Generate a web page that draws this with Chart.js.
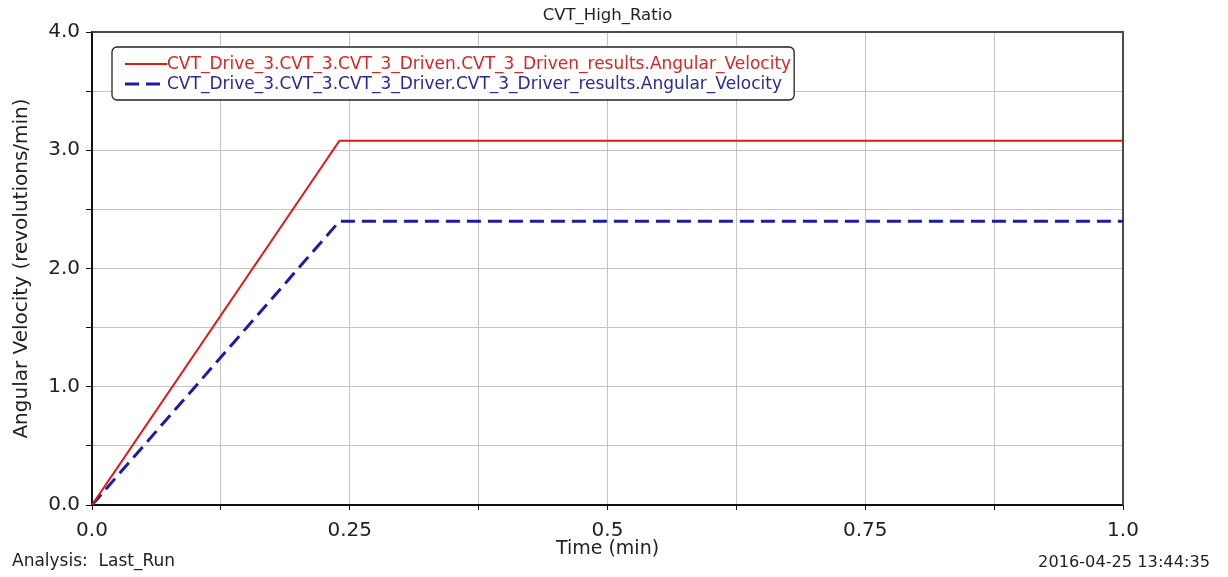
<!DOCTYPE html>
<html>
<head>
<meta charset="utf-8">
<title>CVT_High_Ratio</title>
<script src="https://cdn.jsdelivr.net/npm/chart.js@4/dist/chart.umd.min.js"></script>
<style>
  html, body { margin: 0; padding: 0; background: #ffffff; }
  #wrap { width: 1228px; height: 577px; }
</style>
</head>
<body>
<div id="wrap"><canvas id="plot" width="1228" height="577"></canvas></div>
<script>
// Simulation output: time (min) vs angular velocity (revolutions/min)
const drivenTime = [0, 0.24, 1.0];
const drivenVelocity = [0, 3.08, 3.08];
const driverTime = [0, 0.24, 1.0];
const driverVelocity = [0, 2.4, 2.4];

const seriesNames = [
  'CVT_Drive_3.CVT_3.CVT_3_Driven.CVT_3_Driven_results.Angular_Velocity',
  'CVT_Drive_3.CVT_3.CVT_3_Driver.CVT_3_Driver_results.Angular_Velocity'
];

// Labelled positions on the time axis (other 0.125 steps only get a grid line)
const xTickValues = [0, 0.25, 0.5, 0.75, 1.0];
const xTickLabels = ['0.0', '0.25', '0.5', '0.75', '1.0'];
const yTickValues = [0, 1, 2, 3, 4];
const yTickLabels = ['0.0', '1.0', '2.0', '3.0', '4.0'];

const chartTitle = 'CVT_High_Ratio';
const xTitle = 'Time (min)';
const yTitle = 'Angular Velocity (revolutions/min)';
const footerLeft = 'Analysis:  Last_Run';
const footerRight = '2016-04-25 13:44:35';

const FONT = '"DejaVu Sans", "Liberation Sans", Arial, sans-serif';
const RED = '#e01818';
const BLUE = '#1c1caa';

function toPoints(xs, ys) {
  return xs.map((x, i) => ({ x: x, y: ys[i] }));
}

// Plot frame, legend box and footer texts
const decorations = {
  id: 'decorations',
  beforeDatasetsDraw(chart) {
    const { ctx, chartArea: a } = chart;
    ctx.save();
    ctx.strokeStyle = '#4a4a4a';
    ctx.lineWidth = 2;
    ctx.beginPath();
    ctx.moveTo(a.left, a.top);
    ctx.lineTo(a.right, a.top);
    ctx.lineTo(a.right, a.bottom);
    ctx.stroke();
    ctx.restore();
  },
  afterDatasetsDraw(chart) {
    const { ctx, chartArea: a } = chart;
    ctx.save();
    const fontPx = 17;
    ctx.font = fontPx + 'px ' + FONT;
    const boxX = a.left + 20;
    const boxY = a.top + 15;
    const sampleX0 = boxX + 13;
    const sampleX1 = boxX + 55;
    const textX = sampleX1;
    let maxW = 0;
    chart.data.datasets.forEach(ds => { maxW = Math.max(maxW, ctx.measureText(ds.label).width); });
    const boxW = textX - boxX + maxW + 3;
    const boxH = 53;
    ctx.fillStyle = '#ffffff';
    ctx.strokeStyle = '#222222';
    ctx.lineWidth = 1.3;
    ctx.beginPath();
    ctx.roundRect(boxX, boxY, boxW, boxH, 5);
    ctx.fill();
    ctx.stroke();

    const rowY = [boxY + 17, boxY + 37];
    const textColors = ['#d42828', '#2a2a96'];
    chart.data.datasets.forEach((ds, i) => {
      const y = rowY[i];
      ctx.strokeStyle = ds.borderColor;
      ctx.lineWidth = ds.borderWidth;
      ctx.setLineDash(ds.borderDash || []);
      ctx.beginPath();
      ctx.moveTo(sampleX0, y);
      ctx.lineTo(sampleX1, y);
      ctx.stroke();
      ctx.setLineDash([]);
      ctx.fillStyle = textColors[i];
      ctx.textBaseline = 'middle';
      ctx.textAlign = 'left';
      ctx.fillText(ds.label, textX, y + 1);
    });

    // footer
    ctx.fillStyle = '#222222';
    ctx.font = '17px ' + FONT;
    ctx.textBaseline = 'alphabetic';
    ctx.textAlign = 'left';
    ctx.fillText(footerLeft, 12, 566);
    ctx.font = '16.2px ' + FONT;
    ctx.textAlign = 'right';
    ctx.fillText(footerRight, 1210, 567);
    ctx.restore();
  }
};

new Chart(document.getElementById('plot'), {
  type: 'line',
  data: {
    datasets: [
      {
        label: seriesNames[0],
        data: toPoints(drivenTime, drivenVelocity),
        borderColor: RED,
        borderWidth: 2,
        pointRadius: 0,
        tension: 0,
        fill: false
      },
      {
        label: seriesNames[1],
        data: toPoints(driverTime, driverVelocity),
        borderColor: BLUE,
        borderWidth: 3,
        borderDash: [14, 7],
        pointRadius: 0,
        tension: 0,
        fill: false
      }
    ]
  },
  options: {
    responsive: false,
    animation: false,
    layout: { padding: { left: 0, right: 105, top: 0, bottom: 0 } },
    plugins: {
      legend: { display: false },
      tooltip: { enabled: false },
      title: {
        display: true,
        fullSize: false,
        text: chartTitle,
        color: '#222222',
        font: { family: FONT, size: 16.5, weight: 'normal' },
        padding: { top: 6, bottom: 6.2 }
      }
    },
    scales: {
      x: {
        type: 'linear',
        min: 0,
        max: 1,
        afterFit(scale) { scale.height = 72; },
        afterBuildTicks(scale) {
          const ticks = [];
          for (let i = 0; i <= 8; i++) ticks.push({ value: i * 0.125 });
          scale.ticks = ticks;
        },
        ticks: {
          autoSkip: false,
          maxRotation: 0,
          padding: 9,
          color: '#222222',
          font: { family: FONT, size: 20 },
          callback(value) {
            const k = xTickValues.findIndex(v => Math.abs(v - value) < 1e-9);
            return k >= 0 ? xTickLabels[k] : '';
          }
        },
        grid: {
          color: '#c4c4c4',
          lineWidth: 1,
          drawTicks: true,
          tickLength: 5,
          tickColor: '#111111'
        },
        border: { display: true, color: '#111111', width: 2 },
        title: {
          display: true,
          text: xTitle,
          color: '#222222',
          font: { family: FONT, size: 19 },
          padding: { top: 0, bottom: 17 }
        }
      },
      y: {
        type: 'linear',
        min: 0,
        max: 4,
        afterFit(scale) { scale.width = 92; },
        afterBuildTicks(scale) {
          const ticks = [];
          for (let i = 0; i <= 8; i++) ticks.push({ value: i * 0.5 });
          scale.ticks = ticks;
        },
        ticks: {
          autoSkip: false,
          padding: 6,
          color: '#222222',
          font: { family: FONT, size: 20 },
          callback(value) {
            const k = yTickValues.findIndex(v => Math.abs(v - value) < 1e-9);
            return k >= 0 ? yTickLabels[k] : '';
          }
        },
        grid: {
          color: '#c4c4c4',
          lineWidth: 1,
          drawTicks: true,
          tickLength: 6,
          tickColor: '#111111'
        },
        border: { display: true, color: '#111111', width: 2 },
        title: {
          display: true,
          text: yTitle,
          color: '#222222',
          font: { family: FONT, size: 20 },
          padding: { top: 10, bottom: 0 }
        }
      }
    }
  },
  plugins: [decorations]
});
</script>
</body>
</html>
